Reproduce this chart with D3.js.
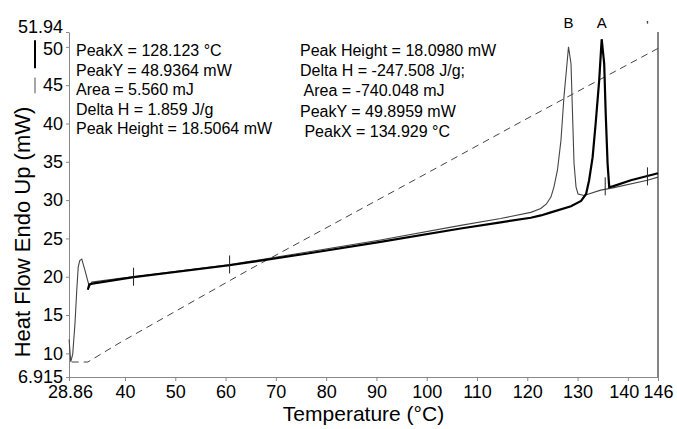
<!DOCTYPE html>
<html>
<head>
<meta charset="utf-8">
<script src="https://cdn.jsdelivr.net/npm/d3@7"></script>
<style>
  body { margin: 0; background: #fff; }
  svg text { font-family: "Liberation Sans", Arial, Helvetica, sans-serif; }
</style>
</head>
<body>
<div id="chart"></div>
<script>
// 1: DATA
const xTicks = [28.86, 40, 50, 60, 70, 80, 90, 100, 110, 120, 130, 140, 146];
const yTicks = [6.915, 10, 15, 20, 25, 30, 35, 40, 45, 50, 51.94];

// thick curve (peak A)
const curveA = [
    [32.6, 18.3], [32.9, 19.0], [33.5, 19.1], [41.7, 19.95], [60.8, 21.5], [64.9, 21.9],
    [76.0, 23.0], [90.8, 24.55], [106.75, 26.3], [114.7, 27.1], [120.7, 27.7], [122.7, 28.0],
    [124.7, 28.4], [128.7, 29.2], [130.7, 29.9], [131.7, 30.8], [132.3, 32.6], [133.0, 35.6],
    [133.6, 40.0], [134.3, 45.6], [134.8, 51.0], [135.3, 47.8], [135.6, 41.3], [135.97, 34.8],
    [136.3, 31.7], [137.0, 31.8], [140.6, 32.6], [146, 33.5]
];

// thin curve (peak B)
const curveB = [
    [28.88, 11.8], [29.2, 8.9], [29.6, 9.9], [30.05, 13.9], [30.4, 18.2], [30.7, 21.3],
    [31.0, 22.1], [31.4, 22.3], [32.05, 20.8], [32.9, 18.7], [33.4, 19.3], [39.0, 19.8],
    [41.7, 20.0], [60.8, 21.6], [64.9, 22.0], [76.0, 23.2], [90.8, 24.8], [106.75, 26.7],
    [114.7, 27.6], [120.7, 28.4], [122.7, 28.9], [123.8, 29.5], [124.7, 30.4], [125.3, 31.7],
    [126.0, 33.9], [126.7, 37.8], [127.3, 43.5], [127.9, 47.8], [128.2, 50.0], [128.7, 47.8],
    [129.0, 41.3], [129.3, 34.8], [129.7, 31.7], [130.1, 30.8], [131.3, 30.6], [134.6, 31.3],
    [137.0, 31.6], [143.9, 32.6], [146, 33.0]
];

// dashed temperature program line
const dashed = [
    [29.4, 8.87], [32.6, 8.87], [39.0, 11.4], [64.9, 21.0], [97.5, 32.6], [118.7, 40.2], [146, 49.8]
];

// analysis limit markers (temp, mW)
const markers = [[41.7, 20.0], [60.8, 21.6], [135.5, 31.8], [143.9, 33.1]];

// small bars left of the y axis (mW ranges)
const sideBars = [[47.2, 50.87, "#000", 2], [43.96, 46.0, "#888", 1.5]];

const leftNotes = ["PeakX = 128.123 °C", "PeakY = 48.9364 mW", "Area = 5.560 mJ",
    "Delta H = 1.859 J/g", "Peak Height = 18.5064 mW"];
const rightNotes = ["Peak Height = 18.0980 mW", "Delta H = -247.508 J/g;", " Area = -740.048 mJ",
    "PeakY = 49.8959 mW", " PeakX = 134.929 °C"];

const peakLabels = [["B", 128.2], ["A", 134.8]];

// 2: SETUP
const W = 677, H = 429;
const margin = { top: 32, right: 19, bottom: 52, left: 69 };
const width = W - margin.left - margin.right;
const height = H - margin.top - margin.bottom;

const svg = d3.select("#chart").append("svg")
    .attr("width", W)
    .attr("height", H);

const g = svg.append("g")
    .attr("transform", `translate(${margin.left},${margin.top})`);

const x = d3.scaleLinear().domain([28.86, 146]).range([0, width]);
const y = d3.scaleLinear().domain([6.915, 51.94]).range([height, 0]);

// 3: AXES
const xAxis = g.append("g")
    .attr("transform", `translate(0,${height})`)
    .call(d3.axisBottom(x).tickValues(xTicks).tickFormat(d => String(d))
        .tickSize(4).tickSizeOuter(0).tickPadding(4));

const yAxis = g.append("g")
    .call(d3.axisLeft(y).tickValues(yTicks).tickFormat(d => String(d))
        .tickSize(3).tickSizeOuter(0).tickPadding(3));

[xAxis, yAxis].forEach(ax => {
    ax.selectAll("path, line").attr("stroke", "#888");
    ax.selectAll("text").attr("font-size", "18px").attr("fill", "#000");
});

// keep crowded end labels apart like the original
xAxis.selectAll(".tick text").filter(d => d === 140).attr("dx", -4);
xAxis.selectAll(".tick text").filter(d => d === 28.86).attr("dx", 1);
yAxis.selectAll(".tick text").filter(d => d === 51.94).attr("dy", "0.05em");
yAxis.selectAll(".tick text").filter(d => d === 50).attr("dy", "0.45em");

// right border
g.append("line")
    .attr("x1", width).attr("x2", width)
    .attr("y1", 0).attr("y2", height)
    .attr("stroke", "#333").attr("stroke-width", 1.2);

// axis titles
svg.append("text")
    .attr("x", margin.left + width / 2)
    .attr("y", 421)
    .attr("text-anchor", "middle")
    .attr("font-size", "21px")
    .text("Temperature (°C)");

svg.append("text")
    .attr("transform", "rotate(-90)")
    .attr("x", -232)
    .attr("y", 30)
    .attr("text-anchor", "middle")
    .attr("font-size", "22px")
    .text("Heat Flow Endo Up (mW)");

// 4: CURVES
const line = d3.line().x(d => x(d[0])).y(d => y(d[1]));

g.append("path").datum(dashed)
    .attr("fill", "none").attr("stroke", "#444")
    .attr("stroke-width", 1).attr("stroke-dasharray", "7,5")
    .attr("d", line);

g.append("path").datum(curveB)
    .attr("fill", "none").attr("stroke", "#444")
    .attr("stroke-width", 1.1)
    .attr("d", line);

g.append("path").datum(curveA)
    .attr("fill", "none").attr("stroke", "#000")
    .attr("stroke-width", 2.2)
    .attr("d", line);

// markers
g.selectAll(".marker").data(markers).enter().append("line")
    .attr("class", "marker")
    .attr("x1", d => x(d[0])).attr("x2", d => x(d[0]))
    .attr("y1", d => y(d[1]) - 9).attr("y2", d => y(d[1]) + 9)
    .attr("stroke", "#222").attr("stroke-width", 1);

// side bars
g.selectAll(".sidebar").data(sideBars).enter().append("line")
    .attr("class", "sidebar")
    .attr("x1", -34).attr("x2", -34)
    .attr("y1", d => y(d[1])).attr("y2", d => y(d[0]))
    .attr("stroke", d => d[2]).attr("stroke-width", d => d[3]);

// 5: ANNOTATIONS
leftNotes.forEach((t, i) => {
    svg.append("text")
        .attr("x", 76).attr("y", 56 + i * 19.5)
        .attr("font-size", "16px")
        .text(t);
});

rightNotes.forEach((t, i) => {
    svg.append("text")
        .attr("x", 300).attr("y", 56 + i * 20.2)
        .attr("font-size", "16px")
        .style("white-space", "pre")
        .text(t);
});

peakLabels.forEach(([t, px]) => {
    svg.append("text")
        .attr("x", margin.left + x(px)).attr("y", 28)
        .attr("text-anchor", "middle")
        .attr("font-size", "15px")
        .text(t);
});

// little tick mark at top right
svg.append("text")
    .attr("x", margin.left + x(143.9)).attr("y", 30)
    .attr("text-anchor", "middle")
    .attr("font-size", "12px")
    .text("'");
</script>
</body>
</html>
